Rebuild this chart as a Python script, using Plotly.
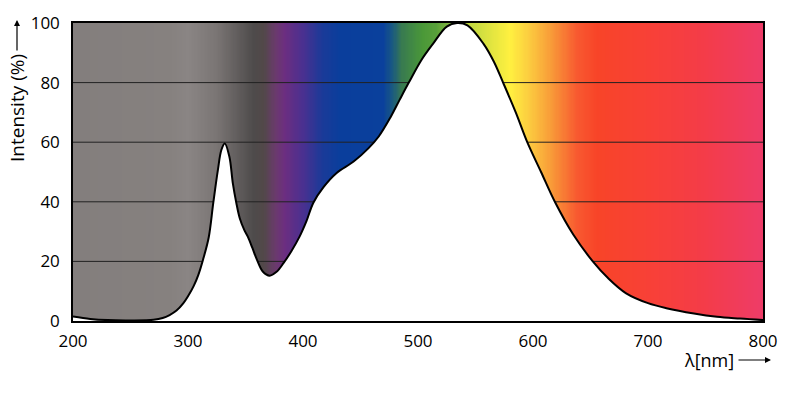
import numpy as np
import plotly.graph_objects as go

# Emission curve (wavelength nm, relative intensity %)
wavelength = [200, 215, 230, 250, 270, 278, 284, 290, 296, 300, 305, 309, 313, 318, 322,
              326, 329, 332, 336, 339, 342, 345, 349, 352, 356, 360, 365, 371, 377, 383,
              390, 397, 403, 409, 418, 429, 444, 457, 466, 476, 484, 492, 503, 513, 525,
              534, 543, 557, 566, 574, 585, 595, 607, 619, 635, 652, 665, 681, 700, 716,
              740, 760, 780, 800]
intensity = [1.5, 0.7, 0.3, 0.2, 0.4, 1.0, 2.0, 3.5, 6.0, 8.3, 11.8, 15.5, 20.5, 28, 39.7,
             50.7, 57.4, 59.6, 55.1, 46.2, 39.7, 34.5, 30.5, 28.3, 24.5, 20.5, 16.6, 15.2, 16.5, 19.4,
             23.5, 28.3, 33.5, 39.7, 45, 49.6, 53.5, 58.0, 62.0, 68.3, 74.2, 80, 87.6, 93, 98.8,
             100, 99.2, 93, 87, 80, 70, 60, 50, 40, 29, 20, 14.5, 9.3, 6, 4.3,
             2.5, 1.4, 0.8, 0.3]

# Background spectrum colour stops
spectrum_nm = [200, 285, 300, 325, 357, 366, 376, 384, 400, 417, 432, 470, 478, 486,
               504, 516, 545, 580, 595, 617, 638, 656, 704, 748, 800]
spectrum_colors = ["#837e7d", "#86817f", "#8a8584", "#7a7574", "#4e4b4b", "#524849",
                   "#6a3a6c", "#6c2e80", "#4a3090", "#1a3a98", "#0a3e9c", "#0a409c",
                   "#1a5a80", "#387a50", "#4a9838", "#58a03a", "#c0d840", "#fff040",
                   "#fcd040", "#f89838", "#f85a30", "#f84428", "#f84038", "#f43c48",
                   "#ee3c68"]

x_ticks = [200, 300, 400, 500, 600, 700, 800]
y_ticks = [0, 20, 40, 60, 80, 100]

lo, hi = spectrum_nm[0], spectrum_nm[-1]
colorscale = [[(v - lo) / (hi - lo), c] for v, c in zip(spectrum_nm, spectrum_colors)]

xs = np.arange(lo, hi + 1)
fig = go.Figure()
fig.add_trace(go.Heatmap(x=xs, y=[0, 100], z=[xs, xs], colorscale=colorscale,
                         zmin=lo, zmax=hi, showscale=False, hoverinfo="skip"))

# grid lines (above the spectrum, below the white curve area)
for yv in y_ticks[1:-1]:
    fig.add_trace(go.Scatter(x=[x_ticks[0], x_ticks[-1]], y=[yv, yv], mode="lines",
                             line=dict(color="#222222", width=1), showlegend=False,
                             hoverinfo="skip"))

fig.add_trace(go.Scatter(x=wavelength, y=intensity, mode="lines", fill="tozeroy",
                         fillcolor="white",
                         line=dict(color="black", width=2, shape="spline", smoothing=1.0),
                         showlegend=False))

font = "Open Sans, DejaVu Sans, sans-serif"
fig.update_layout(
    width=800, height=397,
    margin=dict(l=73, r=37, t=23, b=76),
    paper_bgcolor="white", plot_bgcolor="white",
    font=dict(family=font, size=17, color="black"),
    xaxis=dict(range=[200, 800], tickvals=x_ticks, showgrid=False, zeroline=False,
               showline=True, linecolor="black", linewidth=2, mirror=True,
               ticks="", ticklabelstandoff=4),
    yaxis=dict(range=[0, 100], tickvals=y_ticks, showgrid=False, zeroline=False,
               showline=True, linecolor="black", linewidth=1.5, mirror=True,
               ticks="", ticklabelstandoff=8),
    showlegend=False,
)

fig.add_annotation(text="Intensity (%)", xref="paper", yref="paper",
                   x=(17 - 73) / 690, y=(321 - 108) / 298, textangle=-90,
                   xanchor="center", yanchor="middle",
                   showarrow=False, font=dict(size=19))
fig.add_annotation(text="", xref="paper", yref="paper", x=(17 - 73) / 690,
                   y=(321 - 20) / 298, showarrow=True, ax=0, ay=32,
                   arrowhead=2, arrowsize=1, arrowwidth=1.2, arrowcolor="black")
fig.add_annotation(text="λ[nm]", xref="paper", yref="paper", x=(709 - 73) / 690,
                   y=(321 - 360) / 298, xanchor="center", yanchor="middle",
                   showarrow=False, font=dict(size=18))
fig.add_annotation(text="", xref="paper", yref="paper", x=(771 - 73) / 690,
                   y=(321 - 360) / 298, showarrow=True, ax=-34, ay=0,
                   arrowhead=2, arrowsize=1, arrowwidth=1.2, arrowcolor="black")

fig.write_html("out.html", config={"displayModeBar": False},
               post_script="document.body.style.margin='0';")
